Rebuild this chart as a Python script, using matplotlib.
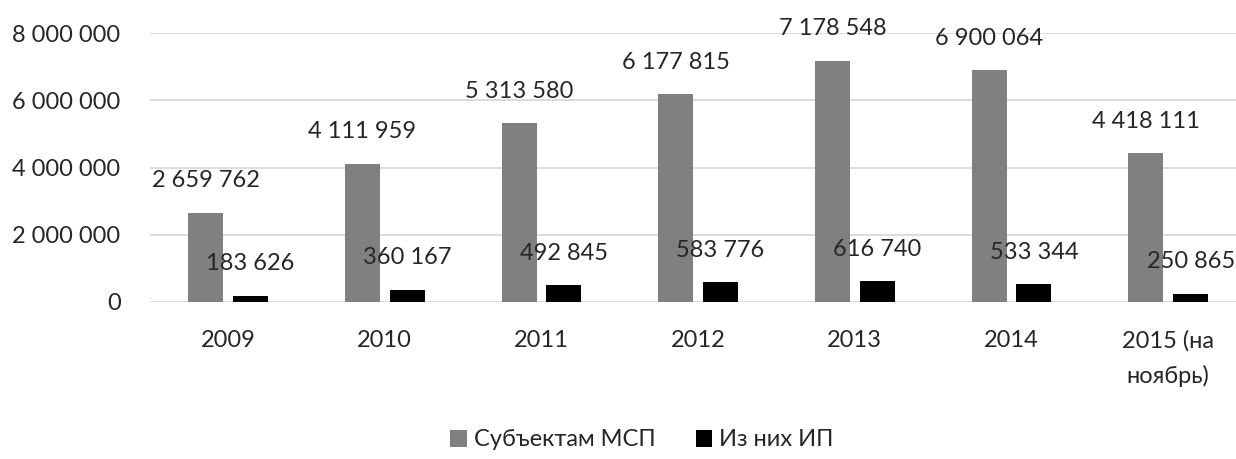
import numpy as np
import matplotlib.pyplot as plt

years = ['2009', '2010', '2011', '2012', '2013', '2014', '2015 (на\nноябрь)']
msp = [2659762, 4111959, 5313580, 6177815, 7178548, 6900064, 4418111]
ip = [183626, 360167, 492845, 583776, 616740, 533344, 250865]
series_names = ['Субъектам МСП', 'Из них ИП']

plt.rcParams['font.family'] = ['Lato', 'DejaVu Sans']
txt = '#262626'

W, H = 1236, 459
fig = plt.figure(figsize=(W / 100, H / 100), dpi=100)
left, right = 149.7, 1246.6
y0, y8 = 302, 33
ax = fig.add_axes([left / W, 1 - y0 / H, (right - left) / W, (y0 - y8) / H])

def fmt(v):
    return f'{v:,}'.replace(',', ' ')

x = np.arange(len(years))
w = 0.223
off = 0.143
b1 = ax.bar(x - off, msp, w, color='#808080', label=series_names[0], zorder=3)
b2 = ax.bar(x + off, ip, w, color='#000000', label=series_names[1], zorder=3)

for bars, vals in ((b1, msp), (b2, ip)):
    for r, v in zip(bars, vals):
        ax.annotate(fmt(v), (r.get_x() + r.get_width() / 2, v),
                    xytext=(0, 23), textcoords='offset points',
                    ha='center', va='center', fontsize=17, color=txt, zorder=4)

ax.set_xlim(-0.5, len(years) - 0.5)
ax.set_ylim(0, 8000000)
ax.set_yticks(range(0, 8000001, 2000000))
ax.set_yticklabels([fmt(v) for v in range(0, 8000001, 2000000)])
ax.set_xticks(x)
ax.set_xticklabels(years, linespacing=1.75)
ax.tick_params(axis='y', length=0, pad=21, labelsize=17, labelcolor=txt)
ax.tick_params(axis='x', length=0, pad=20, labelsize=17, labelcolor=txt)
ax.grid(axis='y', color='#d9d9d9', linewidth=1.3, zorder=0)
for s in ax.spines.values():
    s.set_visible(False)

fig.legend(handles=[b1, b2], loc='center', bbox_to_anchor=(642 / W, 1 - 440 / H),
           ncol=2, frameon=False, fontsize=17, labelcolor=txt,
           handlelength=0.7, handleheight=0.7, handletextpad=0.3, columnspacing=1.7)

fig.savefig('out.png', dpi=100)
